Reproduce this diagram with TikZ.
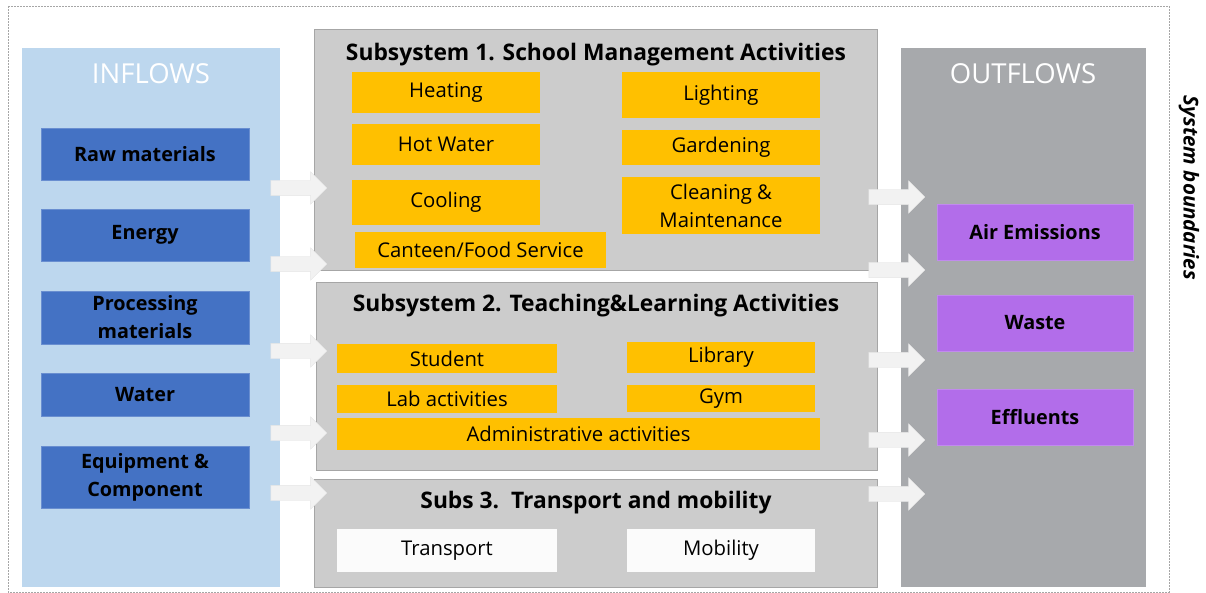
\documentclass[tikz,border=0pt]{standalone}
\usepackage{fontspec}
\setmainfont{Open Sans}
\usetikzlibrary{shapes.arrows}
\definecolor{inblue}{HTML}{BDD7EE}
\definecolor{boxblue}{HTML}{4472C4}
\definecolor{subgray}{HTML}{CCCCCC}
\definecolor{outgray}{HTML}{A7A9AC}
\definecolor{actorange}{HTML}{FFC000}
\definecolor{outpurple}{HTML}{B26DEA}
\definecolor{flowfill}{HTML}{F2F2F2}
\tikzstyle{panel} = [draw=none, inner sep=0pt]
\tikzstyle{subsys} = [fill=subgray, draw=gray!70, line width=0.6pt, inner sep=0pt]
\tikzstyle{inbox} = [fill=boxblue, draw=boxblue!80!white, inner sep=0pt, align=center,%
	font=\fontsize{19.8}{28}\selectfont\bfseries, minimum width=208pt]
\tikzstyle{outbox} = [fill=outpurple, draw=outpurple!80!white, inner sep=0pt, align=center,%
	font=\fontsize{19.8}{28}\selectfont\bfseries, minimum width=196pt, minimum height=56pt]
\tikzstyle{act} = [fill=actorange, inner sep=0pt, align=center,%
	font=\fontsize{20.3}{28}\selectfont]
\tikzstyle{plain} = [fill=white!97!gray, inner sep=0pt, align=center,%
	font=\fontsize{20.3}{28}\selectfont]
\tikzstyle{subtitle} = [font=\fontsize{22.8}{26}\selectfont\bfseries]
\tikzstyle{flow} = [single arrow, fill=flowfill, draw=gray!20, inner xsep=0pt, inner ysep=7.5pt,%
	minimum height=56pt, single arrow head extend=8.5pt]

\begin{document}
\begin{tikzpicture}[x=1pt, y=-1pt]
		\useasboundingbox (0,0) rectangle (1206,593);
		% system boundary
		\draw[gray!70, dash pattern=on 2pt off 1pt] (8,6) rectangle (1169,592);
		\node[rotate=-90, font=\fontsize{20.5}{22}\selectfont\bfseries\itshape] (bound) at (1189,188) {System boundaries};
		% inflows
		\node[panel, fill=inblue, minimum width=258pt, minimum height=539pt] (inflows) at (151,317.5) {};
		\node[white, font=\fontsize{27.5}{30}\selectfont] (inlabel) at (151,74) {INFLOWS};
		\node[inbox, minimum height=52pt] (raw) at (145,154) {Raw materials};
		\node[inbox, minimum height=52pt] (energy) at (145,235) {Energy};
		\node[inbox, minimum height=53pt] (proc) at (145,317.5) {Processing\\materials};
		\node[inbox, minimum height=43pt] (water) at (145,394.5) {Water};
		\node[inbox, minimum height=62pt] (equip) at (145,477) {Equipment \&\\Component};
		% outflows
		\node[panel, fill=outgray, minimum width=245pt, minimum height=539pt] (outflows) at (1023.5,317.5) {};
		\node[white, font=\fontsize{27.5}{30}\selectfont] (outlabel) at (1023,74) {OUTFLOWS};
		\node[outbox] (air) at (1035,232) {Air Emissions};
		\node[outbox] (waste) at (1035,323) {Waste};
		\node[outbox] (effl) at (1035,417) {Effluents};
		% subsystem 1
		\node[subsys, minimum width=563pt, minimum height=241pt] (sub1) at (595.5,149.5) {};
		\node[subtitle] (sub1t) at (596,55) {Subsystem 1. School Management Activities};
		\node[act, minimum width=188pt, minimum height=41pt] (heat) at (446,92.5) {Heating};
		\node[act, minimum width=198pt, minimum height=46pt] (light) at (721,95) {Lighting};
		\node[act, minimum width=188pt, minimum height=41pt] (hotw) at (446,144.5) {Hot Water};
		\node[act, minimum width=198pt, minimum height=35pt] (garden) at (721,147.5) {Gardening};
		\node[act, minimum width=188pt, minimum height=45pt] (cool) at (446,202.5) {Cooling};
		\node[act, minimum width=198pt, minimum height=57pt] (clean) at (721,205.5) {Cleaning \&\\Maintenance};
		\node[act, minimum width=251pt, minimum height=36pt] (canteen) at (480.5,250) {Canteen/Food Service};
		% subsystem 2
		\node[subsys, minimum width=561pt, minimum height=188pt] (sub2) at (596.5,376) {};
		\node[subtitle] (sub2t) at (596,306) {Subsystem 2. Teaching\&Learning Activities};
		\node[act, minimum width=220pt, minimum height=29pt] (student) at (447,358.5) {Student};
		\node[act, minimum width=188pt, minimum height=31pt] (library) at (721,357.5) {Library};
		\node[act, minimum width=220pt, minimum height=28pt] (lab) at (447,399) {Lab activities};
		\node[act, minimum width=188pt, minimum height=27pt] (gym) at (721,398.5) {Gym};
		\node[act, minimum width=483pt, minimum height=32pt] (admin) at (578.5,434) {Administrative activities};
		% subsystem 3
		\node[subsys, minimum width=563pt, minimum height=108pt] (sub3) at (595.5,533) {};
		\node[subtitle] (sub3t) at (596,503) {Subs 3.\ \ Transport and mobility};
		\node[plain, minimum width=220pt, minimum height=43pt] (transp) at (447,550.5) {Transport};
		\node[plain, minimum width=188pt, minimum height=43pt] (mobil) at (721,550.5) {Mobility};
		% flows in
		\foreach \y [count=\i] in {188,264,351,433,493}
			\node[flow] (fin\i) at (295,\y) {};
		% flows out
		\foreach \y [count=\i] in {197,270,360,440,494}
			\node[flow] (fout\i) at (893,\y) {};
	\end{tikzpicture}
\end{document}
